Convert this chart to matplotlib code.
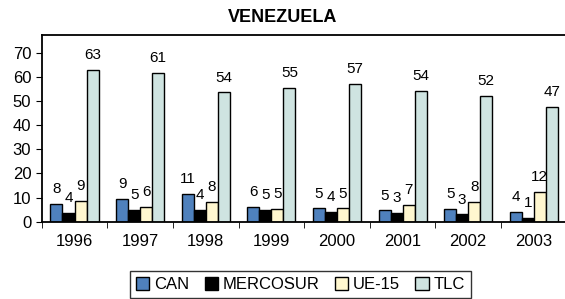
import matplotlib.pyplot as plt
import numpy as np

plt.rcParams['font.family'] = ['Liberation Sans', 'DejaVu Sans']

years = ['1996', '1997', '1998', '1999', '2000', '2001', '2002', '2003']
series = ['CAN', 'MERCOSUR', 'UE-15', 'TLC']

# bar heights
can = [7.5, 9.5, 11.5, 6.1, 5.5, 4.7, 5.4, 4.1]
mercosur = [3.7, 4.8, 4.8, 4.8, 4.1, 3.7, 3.0, 1.7]
ue15 = [8.7, 6.2, 8.1, 5.4, 5.5, 6.9, 8.1, 12.2]
tlc = [62.7, 61.5, 53.5, 55.5, 56.9, 54.1, 52.1, 47.4]

# data labels as printed on the chart
can_lbl = [8, 9, 11, 6, 5, 5, 5, 4]
mercosur_lbl = [4, 5, 4, 5, 4, 3, 3, 1]
ue15_lbl = [9, 6, 8, 5, 5, 7, 8, 12]
tlc_lbl = [63, 61, 54, 55, 57, 54, 52, 47]

colors = ['#4F81BD', '#000000', '#FFF7CF', '#CFE4E1']

fig = plt.figure(figsize=(5.65, 2.99), dpi=100)
ax = fig.add_axes([0.0738, 0.2585, 0.929, 0.626])

x = np.arange(len(years))
w = 0.183
vals = [can, mercosur, ue15, tlc]
lbls = [can_lbl, mercosur_lbl, ue15_lbl, tlc_lbl]
for i in range(4):
    pos = x + (i - 1.5) * w
    ax.bar(pos, vals[i], w, color=colors[i], edgecolor='black', linewidth=1,
           label=series[i])
    for px, v, t in zip(pos, vals[i], lbls[i]):
        ax.annotate(str(t), (px, v), xytext=(0, 7.8), textcoords='offset points',
                    ha='center', va='baseline', fontsize=11)

ax.set_xlim(-0.5, 7.5)
ax.set_ylim(0, 77.5)
ax.set_yticks(np.arange(0, 71, 10))
ax.set_xticks(x)
ax.set_xticklabels(years)
ax.set_xticks(np.arange(-0.5, 8, 1), minor=True)
ax.tick_params(axis='x', which='major', length=0, labelsize=12, pad=9)
ax.tick_params(axis='x', which='minor', length=4, direction='out')
ax.tick_params(axis='y', length=4, direction='out', labelsize=12)
for s in ax.spines.values():
    s.set_linewidth(1.3)

fig.text(0.5, 0.94, 'VENEZUELA', ha='center', va='center', fontsize=13,
         fontweight='bold')

leg = fig.legend(loc='center', bbox_to_anchor=(0.532, 0.048), ncol=4,
                 frameon=True, fancybox=False, fontsize=12, handlelength=0.8,
                 handleheight=0.8, handletextpad=0.3, columnspacing=0.9,
                 borderpad=0.35)
leg.get_frame().set_edgecolor('black')
leg.get_frame().set_linewidth(1)

fig.savefig('out.png', dpi=100)
